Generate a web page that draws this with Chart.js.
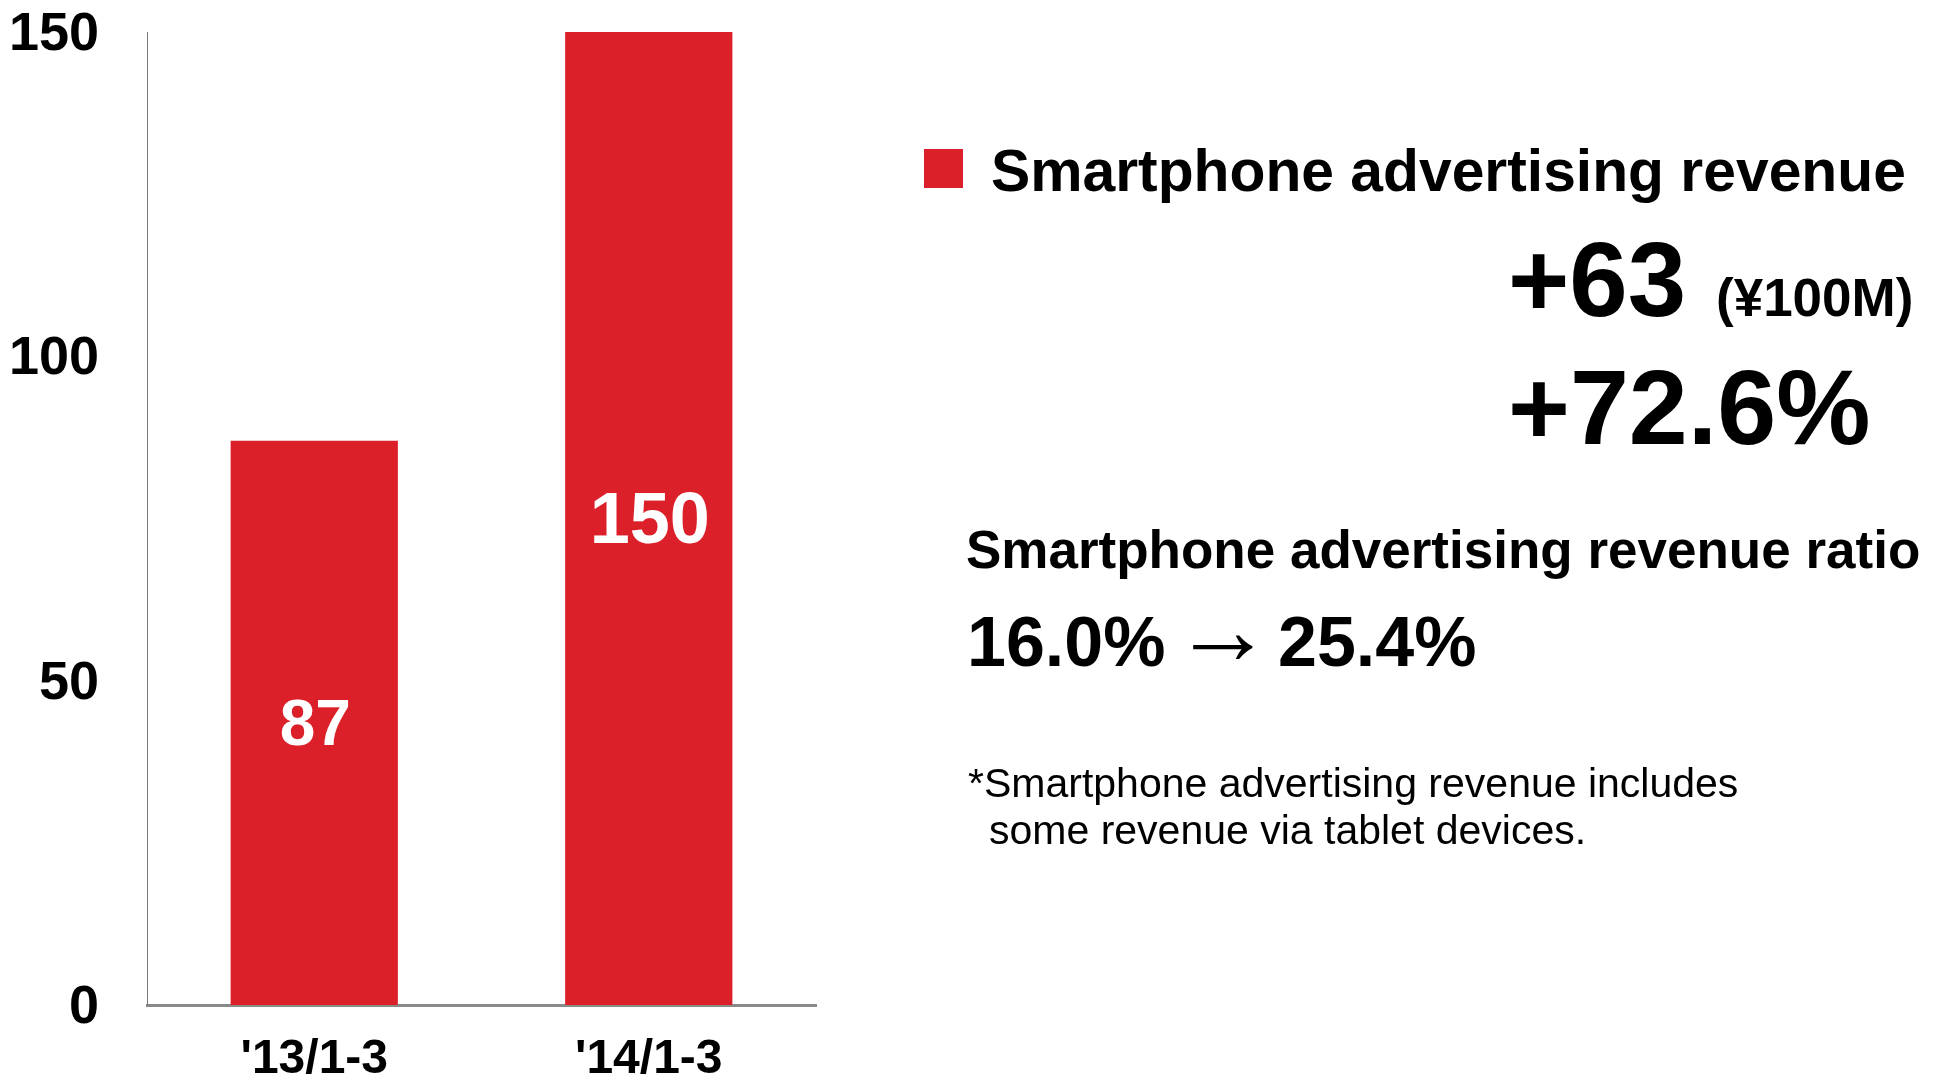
<!DOCTYPE html>
<html>
<head>
<meta charset="utf-8">
<title>Smartphone advertising revenue</title>
<script src="https://cdn.jsdelivr.net/npm/chart.js@4.4.1/dist/chart.umd.min.js"></script>
<style>
  html, body { margin: 0; padding: 0; background: #ffffff; }
  #wrap { position: relative; width: 1937px; height: 1074px; }
  canvas { display: block; }
</style>
</head>
<body>
<div id="wrap"><canvas id="chart" width="1937" height="1074"></canvas></div>
<script>
// Quarterly smartphone advertising revenue (¥100M)
const categories = ["'13/1-3", "'14/1-3"];
const revenue = [87, 150];
const yTicks = [0, 50, 100, 150];
const seriesLabel = "Smartphone advertising revenue";

// Summary figures shown beside the chart
const growthAmount = "+63";
const growthUnit = "(¥100M)";
const growthRate = "+72.6%";
const ratioTitle = "Smartphone advertising revenue ratio";
const ratioBefore = "16.0%";
const ratioArrow = "\u2192";
const ratioAfter = "25.4%";
const footnoteLines = ["*Smartphone advertising revenue includes", "some revenue via tablet devices."];

const FONT = "'Liberation Sans', Arial, Helvetica, sans-serif";
const RED = "#DB2029";

// Value labels centred inside each bar
const barValueLabels = {
  id: "barValueLabels",
  afterDatasetsDraw(chart, args, opts) {
    const ctx = chart.ctx;
    const meta = chart.getDatasetMeta(0);
    ctx.save();
    ctx.fillStyle = "#ffffff";
    ctx.textAlign = "center";
    ctx.textBaseline = "middle";
    meta.data.forEach((bar, i) => {
      const v = chart.data.datasets[0].data[i];
      const size = opts.sizes[i % opts.sizes.length];
      ctx.font = "bold " + size + "px " + FONT;
      const cy = (bar.y + bar.base) / 2;
      ctx.fillText(String(v), bar.x + 1, cy + 5);
    });
    ctx.restore();
  }
};

// Legend entry and summary text on the right-hand side
const sidePanel = {
  id: "sidePanel",
  afterDraw(chart) {
    const ctx = chart.ctx;
    const ds = chart.data.datasets[0];
    ctx.save();
    ctx.textAlign = "left";
    ctx.textBaseline = "alphabetic";
    ctx.fillStyle = ds.backgroundColor;
    ctx.fillRect(924, 149, 39, 39);

    ctx.fillStyle = "#000000";
    ctx.font = "bold 58.8px " + FONT;
    ctx.fillText(ds.label, 991, 191);

    ctx.font = "bold 105px " + FONT;
    ctx.fillText(growthAmount, 1508, 316);
    ctx.font = "bold 53px " + FONT;
    ctx.fillText(growthUnit, 1716, 316);

    ctx.font = "bold 106px " + FONT;
    ctx.fillText(growthRate, 1508, 444);

    ctx.font = "bold 53px " + FONT;
    ctx.fillText(ratioTitle, 966, 568);

    ctx.font = "bold 70px " + FONT;
    ctx.fillText(ratioBefore, 967, 666);
    ctx.fillText(ratioAfter, 1278, 666);
    ctx.font = "100px " + FONT;
    ctx.fillText(ratioArrow, 1173, 664);

    ctx.font = "41px " + FONT;
    ctx.fillText(footnoteLines[0], 968, 797);
    ctx.fillText(footnoteLines[1], 989, 844);
    ctx.restore();
  }
};

new Chart(document.getElementById("chart"), {
  type: "bar",
  data: {
    labels: categories,
    datasets: [{
      label: seriesLabel,
      data: revenue,
      backgroundColor: RED,
      borderWidth: 0,
      barPercentage: 0.5,
      categoryPercentage: 1.0
    }]
  },
  options: {
    responsive: false,
    animation: false,
    devicePixelRatio: 1,
    layout: { padding: { top: 32, right: 1121, bottom: 0, left: 0 } },
    plugins: {
      legend: { display: false },
      tooltip: { enabled: false },
      title: { display: false },
      barValueLabels: { sizes: [64, 72] }
    },
    scales: {
      x: {
        grid: { display: false, drawTicks: false },
        border: { display: true, color: "#8a8a8a", width: 3 },
        afterFit(scale) {
          scale.height = 69;
          scale.paddingLeft = 0;
          scale.paddingRight = 0;
        },
        ticks: {
          color: "#000000",
          font: { family: FONT, size: 48, weight: "bold" },
          padding: 26,
          maxRotation: 0
        }
      },
      y: {
        min: 0,
        max: 150,
        grid: { display: false, drawTicks: false },
        border: { display: true, color: "#7a7a7a", width: 1 },
        afterBuildTicks(scale) {
          scale.ticks = yTicks.map(v => ({ value: v }));
        },
        afterFit(scale) {
          scale.width = 147;
          scale.paddingTop = 0;
          scale.paddingBottom = 0;
        },
        ticks: {
          color: "#000000",
          font: { family: FONT, size: 54, weight: "bold" },
          padding: 48,
          labelOffset: 3
        }
      }
    }
  },
  plugins: [barValueLabels, sidePanel]
});
</script>
</body>
</html>
